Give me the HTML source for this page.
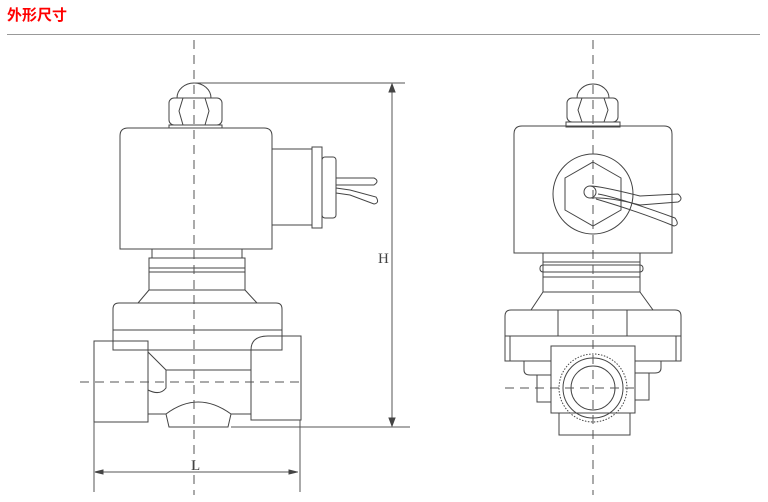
<!DOCTYPE html>
<html><head><meta charset="utf-8"><style>
body{margin:0;background:#fff;width:768px;height:502px;overflow:hidden;position:relative}
.t{position:absolute;left:7px;top:4px;font:bold 15px "Liberation Sans","Noto Sans CJK SC",sans-serif;color:#f00;letter-spacing:0px}
.hr{position:absolute;left:7px;top:34px;width:753px;height:1px;background:#999}
svg{position:absolute;left:0;top:0}
</style></head><body>
<div class="t">外形尺寸</div><div class="hr"></div>
<svg width="768" height="502" viewBox="0 0 768 502" fill="none" stroke="#444" stroke-width="1">
<!-- LEFT VIEW -->
<path d="M177,98 A17,15 0 0 1 211,98"/>
<rect x="169" y="98" width="53" height="27" rx="5"/>
<path d="M183,98 L205,98 L209,111 L205,125 L183,125 L179,111 Z"/>
<rect x="169" y="125" width="53" height="3"/>
<path d="M120,249 L120,136 Q120,128 128,128 L264,128 Q272,128 272,136 L272,249 Z"/>
<rect x="272" y="149" width="40" height="76"/>
<rect x="312" y="147" width="10" height="81"/>
<rect x="322" y="157" width="14" height="61" rx="3"/>
<path d="M336,178 L374,178 Q380,181 374,185 L336,185"/>
<path d="M336,188 L350,190 L376,197 Q380,203 374,204 L350,195 L336,193"/>
<rect x="152" y="249" width="90" height="9"/>
<path d="M149,258 L245,258 L245,290 L149,290 Z M149,268 L245,268 M149,272 L245,272"/>
<path d="M149,290 L138,303 L257,303 L245,290"/>
<path d="M113,350 L113,309 Q113,303 119,303 L276,303 Q282,303 282,309 L282,350 Z M113,330 L282,330"/>
<rect x="94" y="341" width="54" height="81"/>
<path d="M148,352 L166,370 L166,388 Q160,396 148,390"/>
<path d="M166,370 L251,370 M148,414 L166,414 M231,414 L251,414"/>
<path d="M282,336 L301,336 L301,420 L251,420 L251,350 Q251,336 268,336 L282,336"/>
<path d="M166,414 Q198,390 231,414 L228,427 L169,427 Z"/>
<g stroke="#555">
<path d="M194,40 L194,495" stroke-dasharray="9,6"/>
<path d="M80,382 L300,382" stroke-dasharray="9,6"/>
<path d="M194,83 L405,83 M231,427 L410,427 M392,85 L392,425 M94,422 L94,492 M300,420 L300,492 M96,472 L298,472"/>
</g>
<path d="M389,92 L392,84 L395,92 Z M389,418 L392,426 L395,418 Z M103,470 L95,472 L103,474 Z M289,470 L297,472 L289,474 Z" fill="#444"/>
<g fill="#444" stroke="none" font-family="Liberation Serif,serif" font-size="15">
<text x="378" y="263">H</text><text x="191" y="470">L</text></g>
<!-- RIGHT VIEW -->
<path d="M577,98 A16,14 0 0 1 609,98"/>
<rect x="567" y="98" width="51" height="24" rx="5"/>
<path d="M582,98 L604,98 L608,110 L604,122 L582,122 L578,110 Z"/>
<rect x="566" y="122" width="54" height="5"/>
<path d="M514,253 L514,134 Q514,126 522,126 L664,126 Q672,126 672,134 L672,253 Z"/>
<circle cx="593" cy="194" r="40"/>
<path d="M593,162 L621,178 L621,210 L593,226 L565,210 L565,178 Z"/>
<circle cx="590" cy="192" r="6"/>
<path d="M590,186 Q600,186 640,196 L678,194 Q684,199 678,202 L640,205 Q610,197 590,198"/>
<path d="M598,194 Q620,198 675,218 Q680,225 674,226 Q640,212 596,199"/>
<rect x="543" y="253" width="97" height="9"/>
<rect x="540" y="265" width="103" height="7" rx="3"/>
<path d="M543,262 L543,292 L640,292 L640,262 M543,277 L640,277"/>
<path d="M543,292 L531,310 L653,310 L640,292"/>
<path d="M505,361 L505,316 Q505,310 511,310 L675,310 Q681,310 681,316 L681,361 Z M505,336 L681,336 M558,310 L558,336 M627,310 L627,336 M510,336 L510,361 M676,336 L676,361"/>
<path d="M524,361 L524,370 Q524,375 530,375 L551,375 M537,375 L537,402 L551,402"/>
<path d="M661,361 L661,368 Q661,373 655,373 L635,373 M649,373 L649,400 L635,400"/>
<rect x="551" y="346" width="84" height="67" fill="#fff"/>
<path d="M559,413 L559,435 L630,435 L630,413"/>
<circle cx="593" cy="388" r="30"/>
<circle cx="593" cy="388" r="22"/>
<circle cx="593" cy="388" r="34" stroke-dasharray="1.5,1.5"/>
<g stroke="#555">
<path d="M593,40 L593,495" stroke-dasharray="9,6"/>
<path d="M505,388 L637,388" stroke-dasharray="9,6"/>
</g>
</svg>
</body></html>
